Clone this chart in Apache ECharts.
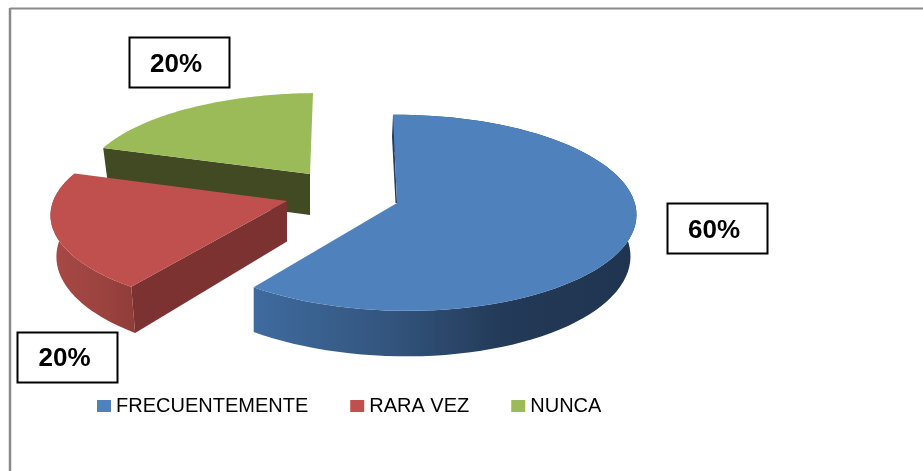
<!DOCTYPE html>
<html>
<head>
<meta charset="utf-8">
<style>html,body{margin:0;padding:0;background:#fff}#main{width:923px;height:471px}</style>
<script src="https://cdn.jsdelivr.net/npm/echarts@6/dist/echarts.min.js"></script>
</head>
<body>
<div id="main"></div>
<script>
var categories = ["FRECUENTEMENTE", "RARA VEZ", "NUNCA"];
var values = [60, 20, 20];

var total = 0;
for (var i = 0; i < values.length; i++) total += values[i];

// fake 3d: each slice has its own apex and projection, fitted by eye
var slices = [
  {ax: 397, ay: 203, rx: 233, ry: 97, k: 0.1, m: -0.02, s: -4.4, depth: 41, insetLeft: 1,
   top: "#4f81bd", dark: "#253d5c",
   wall: [[0, "#3f6b9e"], [0.35, "#33557e"], [0.65, "#233a58"], [1, "#1f344f"]],
   box: [667, 203], textX: 714, textY: 231},
  {ax: 287, ay: 201, rx: 231, ry: 92.5, k: 0.15, m: 0.012, s: 0, depth: 40.5, insetLeft: 0.975,
   top: "#c0504d", dark: "#7c3231",
   wall: [[0, "#a84946"], [0.6, "#9c433f"], [1, "#8f3c39"]],
   box: [17, 332], textX: 64.5, textY: 359},
  {ax: 310, ay: 174, rx: 231, ry: 89, k: 0.1, m: -0.028, s: 3.3, depth: 41, insetLeft: 0.975,
   top: "#9bbb59", dark: "#414a23",
   wall: null,
   box: [129, 37], textX: 176, textY: 65}
];

function project(sl, deg, low) {
  var t = deg * Math.PI / 180;
  var p = 1 / (1 + sl.k * Math.cos(t) + sl.m * Math.sin(t));
  var x = (sl.rx * Math.sin(t) + sl.s * Math.cos(t)) * p;
  var y = -sl.ry * Math.cos(t) * p;
  if (low) {
    return [sl.ax + x * (x > 0 ? 0.975 : sl.insetLeft), sl.ay + y + sl.depth / (1 + sl.k * Math.cos(t))];
  }
  return [sl.ax + x, sl.ay + y];
}

function arc(sl, a0, a1, low) {
  var pts = [];
  var n = 80;
  for (var j = 0; j <= n; j++) {
    pts.push(project(sl, a0 + (a1 - a0) * j / n, low));
  }
  return pts;
}

function renderSlice(idx) {
  var sl = slices[idx];
  var before = 0;
  for (var j = 0; j < idx; j++) before += values[j];
  var a0 = before / total * 360;
  var a1 = (before + values[idx]) / total * 360;
  var children = [];

  // outer wall, gradient runs left to right
  if (sl.wall) {
    var ring = arc(sl, a0, a1, false).concat(arc(sl, a0, a1, true).reverse());
    var stops = sl.wall.map(function (w) { return {offset: w[0], color: w[1]}; });
    children.push({
      type: "polygon",
      shape: {points: ring},
      style: {fill: new echarts.graphic.LinearGradient(0, 0, 1, 0, stops)}
    });
  }

  // cut face at the start angle
  var c0 = project(sl, a0, false);
  if (idx === 0) {
    // the big slice only shows a thin dark sliver there
    children.push({
      type: "polygon",
      shape: {points: [c0, [sl.ax, sl.ay], [sl.ax - 1.5, sl.ay], [c0[0] - 1, c0[1] + 22]]},
      style: {fill: sl.dark}
    });
  } else {
    children.push({
      type: "polygon",
      shape: {points: [c0, [sl.ax, sl.ay], [sl.ax, sl.ay + sl.depth], project(sl, a0, true)]},
      style: {fill: sl.dark}
    });
  }

  // top face
  children.push({
    type: "polygon",
    shape: {points: [[sl.ax, sl.ay]].concat(arc(sl, a0, a1, false))},
    style: {fill: sl.top}
  });

  // value box
  children.push({
    type: "rect",
    shape: {x: sl.box[0] + 0.5, y: sl.box[1] + 0.5, width: 100, height: 50},
    style: {fill: "#fff", stroke: "#000", lineWidth: 2}
  });
  children.push({
    type: "text",
    style: {
      x: sl.textX,
      y: sl.textY,
      text: Math.round(values[idx] / total * 100) + "%",
      fill: "#000",
      font: "bold 26px 'Liberation Sans', Arial, sans-serif",
      align: "center",
      verticalAlign: "middle"
    }
  });
  return {type: "group", children: children};
}

var myChart = echarts.init(document.getElementById("main"));

var series = [];
// drawn back to front: green, red, blue
[2, 1, 0].forEach(function (idx) {
  series.push({
    name: categories[idx],
    type: "custom",
    coordinateSystem: "none",
    animation: false,
    z: 3 - idx,
    itemStyle: {color: slices[idx].top},
    data: [values[idx]],
    renderItem: function () { return renderSlice(idx); }
  });
});

var option = {
  backgroundColor: "#fff",
  animation: false,
  legend: {
    data: categories,
    left: 92,
    top: 391,
    icon: "rect",
    itemWidth: 14,
    itemHeight: 12,
    itemGap: 42,
    selectedMode: false,
    textStyle: {color: "#000", fontSize: 20, fontFamily: "'Liberation Sans', Arial, sans-serif"}
  },
  graphic: [
    {type: "line", shape: {x1: 10, y1: 8.5, x2: 923, y2: 8.5}, style: {stroke: "#8a8a8a", lineWidth: 2}},
    {type: "line", shape: {x1: 10, y1: 8, x2: 10, y2: 471}, style: {stroke: "#8a8a8a", lineWidth: 2.5}}
  ],
  series: series
};
myChart.setOption(option);
</script>
</body>
</html>
